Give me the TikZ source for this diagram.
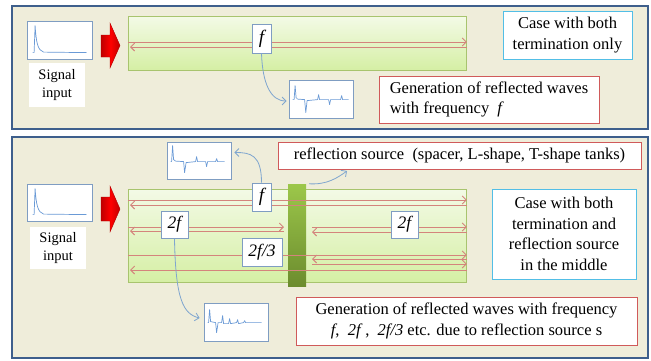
\documentclass[tikz,border=0pt]{standalone}
\usepackage{fontspec}
\setmainfont{Liberation Serif}
\usetikzlibrary{arrows.meta,calc}
\definecolor{panelfill}{HTML}{EFEDDA}
\definecolor{panelline}{HTML}{3E5F8C}
\definecolor{bartop}{HTML}{F3FAE6}
\definecolor{barbot}{HTML}{D5EFA4}
\definecolor{barline}{HTML}{A8C46E}
\definecolor{vtop}{HTML}{9CC74A}
\definecolor{vbot}{HTML}{6C8C2E}
\definecolor{wavered}{HTML}{D4847C}
\definecolor{connblue}{HTML}{7FA6CF}
\definecolor{boxblue}{HTML}{7F9DC2}
\definecolor{boxred}{HTML}{D05A5A}
\definecolor{boxcyan}{HTML}{52BEE6}
\definecolor{sigblue}{HTML}{6A9AD6}
\newcommand{\mainsz}{\fontsize{16.5}{20.5}\selectfont}
\newcommand{\sigsz}{\fontsize{14.5}{18}\selectfont}
\newcommand{\fsz}{\fontsize{19}{20}\selectfont\itshape}
\newcommand{\tfsz}{\fontsize{17.5}{20}\selectfont\itshape}
\tikzset{
  panel/.style={draw=panelline, line width=2pt, fill=panelfill, anchor=north west, inner sep=0pt},
  greenbar/.style={draw=barline, line width=0.8pt, top color=bartop, bottom color=barbot, anchor=north west, inner sep=0pt},
  vbarstyle/.style={top color=vtop, bottom color=vbot, draw=none, inner sep=0pt},
  wbox/.style={draw=boxblue, line width=0.8pt, fill=white, minimum width=64pt, minimum height=38pt, inner sep=0pt},
  fbox/.style={draw=boxblue, line width=0.8pt, fill=white, inner sep=0pt, font=\fsz},
  tfbox/.style={draw=boxblue, line width=0.8pt, fill=white, inner sep=0pt, font=\tfsz},
  redbox/.style={draw=boxred, line width=0.8pt, fill=white, inner sep=0pt, align=center, font=\mainsz},
  cyanbox/.style={draw=boxcyan, line width=0.8pt, fill=white, inner sep=0pt, align=center, font=\mainsz},
  sigtext/.style={fill=white, inner sep=0pt, align=center, font=\sigsz, minimum width=56pt},
  wave/.style={draw=wavered, line width=0.9pt},
  rtip/.style={-{Straight Barb[length=4pt,width=8pt]}},
  ltip/.style={{Straight Barb[length=4pt,width=8pt]}-},
  conn/.style={draw=connblue, line width=0.8pt, -{Straight Barb[length=4pt,width=8pt]}},
  sig/.style={draw=sigblue, line width=0.7pt, line join=round},
  redarrow/.style={left color=red!75!black, right color=red!75!black, middle color=red, draw=red!70!black, line width=0.4pt}
}
\begin{document}
\begin{tikzpicture}[x=1pt,y=-1pt]
\useasboundingbox (0,0) rectangle (651,360);
% ---------------- panels
\node[panel, minimum width=636pt, minimum height=123pt] (p1) at (11,5) {};
\node[panel, minimum width=636pt, minimum height=221pt] (p2) at (11,136) {};

% ================= TOP PANEL
\node[wbox, minimum width=65pt] (sig1) at (59.5,40) {};
\begin{scope}[shift={(sig1.north west)}]
  \draw[sig] (6,32) -- (7.5,32) -- (8.5,5) .. controls (9.5,21) and (11,30) .. (17,31.5) -- (60,32);
\end{scope}
\node[sigtext, minimum height=44pt] (sig1t) at (57,85) {Signal\\input};
\shadedraw[redarrow] (101,35) -- (110,35) -- (110,23) -- (120,45.5) -- (110,68) -- (110,57) -- (101,57) -- cycle;

\node[greenbar, minimum width=338pt, minimum height=54pt] (bar1) at (128,16) {};
\draw[wave,rtip] (bar1.west |- 0,42) -- (bar1.east |- 0,42);
\draw[wave,ltip] ($(bar1.west |- 0,47)+(2,0)$) -- (bar1.east |- 0,47);

\node[fbox, minimum width=19pt, minimum height=29pt] (f1) at (261.5,38.5) {f};
\node[wbox] (w1) at (321,99) {};
\begin{scope}[shift={(w1.north west)}]
  \draw[sig] (4,20) -- (5.5,20) -- (6.5,6) -- (7.5,18) -- (9,19.5) -- (16,20) -- (17.2,33) -- (18.5,21) -- (29,20) -- (30,15) -- (31,20) -- (40,20) -- (41,25) -- (42,20) -- (52,20) -- (53,16) -- (54,20) -- (60,20);
\end{scope}
\draw[conn] (f1.south) .. controls +(1,30) and +(-16,0) .. ($(w1.west)+(-2,2)$);

\node[cyanbox, minimum width=129pt, minimum height=48pt] (case1) at (567.5,35) {Case with both\\termination only};
\node[redbox, minimum width=220pt, minimum height=47pt, align=left] (gen1) at (489,99.5) {Generation of reflected waves\\with frequency \ \textit{f}};

% ================= BOTTOM PANEL
\node[wbox, minimum width=65pt, minimum height=37pt] (sig2) at (59.5,202.5) {};
\begin{scope}[shift={(sig2.north west)}]
  \draw[sig] (6,31) -- (7.5,31) -- (8.5,5) .. controls (9.5,20) and (11,29) .. (17,30.5) -- (60,31);
\end{scope}
\node[sigtext, minimum height=42pt] (sig2t) at (58,248) {Signal\\input};
\shadedraw[redarrow] (101,197) -- (110,197) -- (110,186) -- (120,209) -- (110,232) -- (110,221) -- (101,221) -- cycle;

\node[greenbar, minimum width=338pt, minimum height=93pt] (bar2) at (128,189) {};
\node[vbarstyle, minimum width=18pt, minimum height=102pt] (vbar) at (297,235) {};

% wave lines
\draw[wave,rtip] (bar2.west |- 0,200) -- (bar2.east |- 0,200);
\draw[wave,ltip] ($(bar2.west |- 0,205)+(2,0)$) -- (bar2.east |- 0,205);
\draw[wave,rtip] (bar2.west |- 0,227) -- (284,227);
\draw[wave,ltip] ($(bar2.west |- 0,231)+(2,0)$) -- (284,231);
\draw[wave,rtip] (312,227) -- (bar2.east |- 0,227);
\draw[wave,ltip] (312,232) -- (bar2.east |- 0,232);
\draw[wave,rtip] (bar2.west |- 0,255) -- (bar2.east |- 0,255);
\draw[wave,ltip] (312,259) -- (bar2.east |- 0,259);
\draw[wave,rtip] (312,264) -- (bar2.east |- 0,264);
\draw[wave,ltip] ($(bar2.west |- 0,270)+(2,0)$) -- (bar2.east |- 0,270);

% boxes on bar
\node[fbox, minimum width=19pt, minimum height=28pt] (f2) at (261.5,197) {f};
\node[tfbox, minimum width=27pt, minimum height=27pt] (tfl) at (174.5,224.5) {2f};
\node[tfbox, minimum width=27pt, minimum height=27pt] (tfr) at (404.5,224.5) {2f};
\node[tfbox, minimum width=40pt, minimum height=28pt] (tft) at (262,252) {2f/3};

% waveform boxes
\node[wbox, minimum height=37pt] (wA) at (199,160.5) {};
\begin{scope}[shift={(wA.north west)}]
  \draw[sig] (4,20) -- (5,20) -- (6,4) -- (7,18) -- (9,19.5) -- (17,20) -- (18,31) -- (19.5,21) -- (29,20) -- (30,15) -- (31,20) -- (39,20) -- (40,25) -- (41,20) -- (49,20) -- (50,17) -- (51,20) -- (58,20);
\end{scope}
\node[wbox] (wB) at (236,322) {};
\begin{scope}[shift={(wB.north west)}]
  \draw[sig] (4,20) -- (5,20) -- (6,7) -- (7,19) -- (12,20) -- (13,30) -- (14.5,20) -- (18,20) -- (19,13) -- (20,21) -- (25,21) -- (26,16) -- (27,21) -- (33,20) -- (34,17) -- (35,21) -- (40,20) -- (41,18) -- (42,20) -- (58,20);
\end{scope}

\node[redbox, minimum width=363pt, minimum height=27pt] (rsrc) at (459.5,155.5) {reflection source \ (spacer, L-shape, T-shape tanks)};
\node[cyanbox, minimum width=144pt, minimum height=90pt] (case2) at (564,234) {Case with both\\termination and\\reflection source\\in the middle};
\node[redbox, minimum width=341pt, minimum height=48pt] (gen2) at (466.5,321) {Generation of reflected waves with frequency\\\textit{f},\ \ \textit{2f}\,,\ \ \textit{2f/3} etc. due to reflection source s};

% connectors
\draw[conn] (f2.north) .. controls +(0,-28) and +(16,0) .. ($(wA.east)+(3,-8)$);
\coordinate (rsStart) at ($(vbar.north east)+(3,0)$);
\coordinate (rsEnd) at (347,171);
\draw[conn] (rsStart) .. controls +(18,1) and +(-10,7) .. (rsEnd);
\draw[conn] (tfl.south) .. controls +(1,62) and +(-16,-4) .. ($(wB.west)+(-4,-4)$);
\end{tikzpicture}
\end{document}
